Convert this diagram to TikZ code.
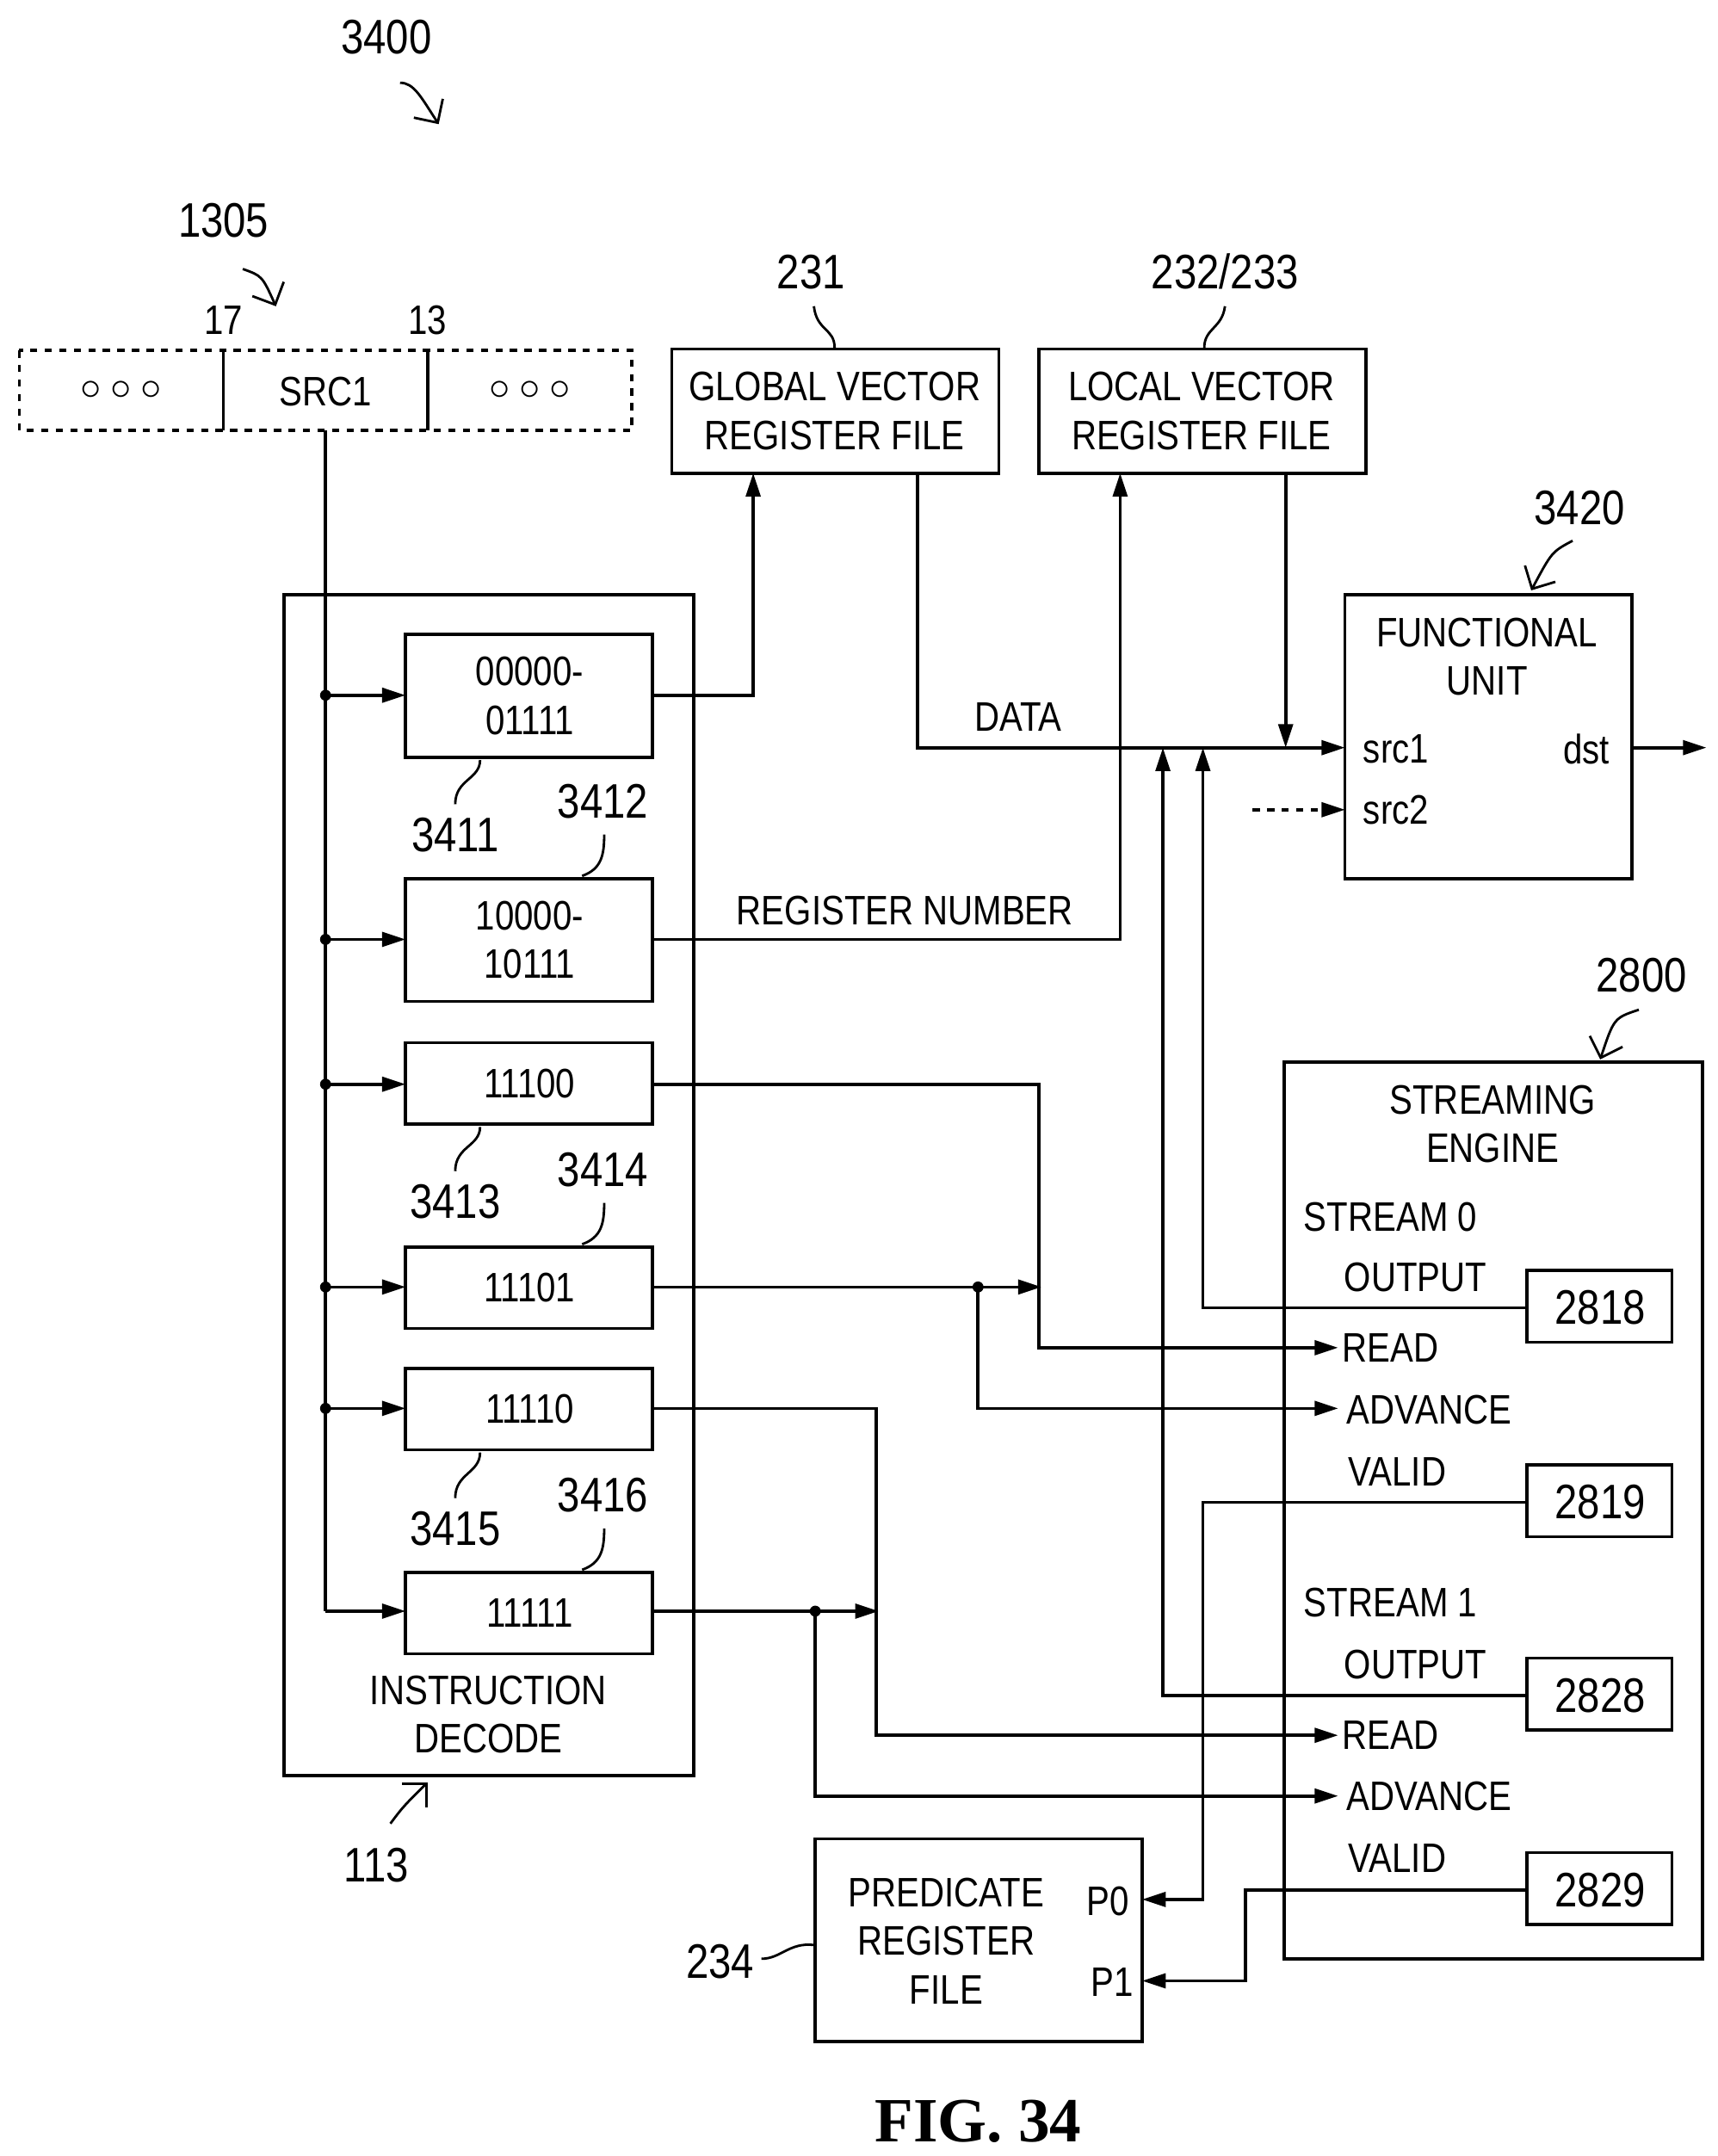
\documentclass[tikz,border=0pt]{standalone}
\usepackage{fontspec}
\setmainfont{Liberation Serif}
\newfontfamily\nar[FakeStretch=0.84]{Liberation Sans}
\usetikzlibrary{arrows.meta}
\begin{document}
\begin{tikzpicture}[x=0.02cm,y=-0.02cm,line width=1.3pt,
 box/.style={draw,minimum width=0,inner sep=0},
 t/.style={font=\nar\fontsize{17}{20}\selectfont,inner sep=0,align=center},
 n/.style={font=\nar\fontsize{20}{24}\selectfont,inner sep=0},
 a/.style={-{Triangle[length=3.4mm,width=2.1mm]}},
 dot/.style={circle,fill,inner sep=0,minimum size=0.16cm}]
\useasboundingbox (0,0) rectangle (1245,1563);
% register 1305
\draw[dashed] (14,254) rectangle (458,312);
\draw (162,254)--(162,312) (310,254)--(310,312);
\node[t] at (88,283) {$\circ\circ\circ$};
\node[t] at (384,283) {$\circ\circ\circ$};
\node[t] (src) at (236,284) {SRC1};
\node[t] at (162,232) {17};
\node[t] at (310,232) {13};
\node[n] (l1305) at (162,160) {1305};
\draw[line width=1pt,-{Straight Barb[length=2.5mm]}] (176,195) .. controls (190,200) .. (200,222);
\node[n] (l3400) at (280,27) {3400};
\draw[line width=1pt,-{Straight Barb[length=2.5mm]}] (290,60) .. controls (300,60) and (305,70) .. (318,90);
% vector RFs
\draw (487,253) rectangle (724,343);
\node[t] (g) at (605,298) {GLOBAL VECTOR\\REGISTER FILE};
\node[n] at (588,197) {231};
\draw[line width=1pt] (590,222) .. controls (592,240) and (605,238) .. (605,252);
\draw (753,253) rectangle (990,343);
\node[t] (lv) at (871,298) {LOCAL VECTOR\\REGISTER FILE};
\node[n] at (888,197) {232/233};
\draw[line width=1pt] (888,222) .. controls (886,238) and (873,238) .. (873,252);
% instruction decode
\draw (206,431) rectangle (503,1287);
\node[t] at (354,1243) {INSTRUCTION\\DECODE};
\node[n] at (273,1352) {113};
\draw[line width=1pt,-{Straight Barb[length=2.5mm]}] (283,1322) .. controls (292,1310) .. (310,1292);
\draw (236,312) -- (236,1168);
\draw[a] (236,1168) -- (294,1168);
\foreach \y/\h/\txt/\nm in {460/549/{00000-\\01111}/b1, 637/726/{10000-\\10111}/b2, 756/815/11100/b3, 904/963/11101/b4, 992/1051/11110/b5, 1140/1199/11111/b6}{
 \draw (294,\y) rectangle (473,\h);
 \node[t] (\nm) at (384,{(\y+\h)/2}) {\txt};
}
\foreach \y in {504,681,786,933,1021}{
 \node[dot] at (236,\y) {};
 \draw[a] (236,\y) -- (294,\y);
}
\foreach \x/\y/\l/\cx/\cy in {330/605/3411/350/549, 437/581/3412/440/637, 330/871/3413/350/815, 437/848/3414/440/904, 330/1108/3415/350/1051, 437/1084/3416/440/1140}{
 \node[n] at (\x,\y) {\l};
}
\draw[line width=1pt] (330,583) .. controls (330,565) and (348,565) .. (348,551);
\draw[line width=1pt] (422,635) .. controls (436,630) and (438,620) .. (438,605);
\draw[line width=1pt] (330,849) .. controls (330,831) and (348,831) .. (348,817);
\draw[line width=1pt] (422,902) .. controls (436,897) and (438,887) .. (438,872);
\draw[line width=1pt] (330,1086) .. controls (330,1068) and (348,1068) .. (348,1053);
\draw[line width=1pt] (422,1138) .. controls (436,1133) and (438,1123) .. (438,1108);
% functional unit
\draw (975,431) rectangle (1183,637);
\node[t] (fu) at (1078,476) {FUNCTIONAL\\UNIT};
\node[t] at (1012,543) {src1};
\node[t] at (1012,587) {src2};
\node[t] at (1150,543) {dst};
\draw[a] (1183,542) -- (1237,542);
\draw[a,dashed] (908,587) -- (975,587);
\node[n] at (1145,368) {3420};
\draw[line width=1pt,-{Straight Barb[length=2.5mm]}] (1140,392) .. controls (1125,400) .. (1110,428);
% connections top
\draw[a] (473,504) -- (546,504) -- (546,343);
\draw[a] (473,681) -- (812,681) -- (812,343);
\node[t] at (656,660) {REGISTER NUMBER};
\draw[a] (665,343) -- (665,542) -- (975,542);
\node[t] at (738,520) {DATA};
\draw[a] (932,343) -- (932,542);
% streaming engine
\draw (931,770) rectangle (1234,1420);
\node[t] (se) at (1082,815) {STREAMING\\ENGINE};
\node[n] at (1190,707) {2800};
\draw[line width=1pt,-{Straight Barb[length=2.5mm]}] (1188,732) .. controls (1170,738) .. (1160,768);
\node[t] at (1008,882) {STREAM 0};
\node[t] at (1026,926) {OUTPUT};
\node[t] at (1008,977) {READ};
\node[t] at (1036,1022) {ADVANCE};
\node[t] at (1013,1067) {VALID};
\node[t] at (1008,1162) {STREAM 1};
\node[t] at (1026,1207) {OUTPUT};
\node[t] at (1008,1258) {READ};
\node[t] at (1036,1302) {ADVANCE};
\node[t] at (1013,1347) {VALID};
\foreach \y/\l in {921/2818,1062/2819,1202/2828,1343/2829}{
 \draw[fill=white] (1107,\y) rectangle (1212,\y+52);
 \node[n] at (1160,\y+27) {\l};
}
\draw[a] (1107,948) -- (872,948) -- (872,542);
\draw[a] (1107,1229) -- (843,1229) -- (843,542);
% control lines
\draw[a] (473,786) -- (753,786) -- (753,977) -- (970,977);
\draw[a] (473,933) -- (755,933);
\node[dot] at (709,933) {};
\draw[a] (709,933) -- (709,1021) -- (970,1021);
\draw[a] (473,1021) -- (635,1021) -- (635,1258) -- (970,1258);
\draw[a] (473,1168) -- (637,1168);
\node[dot] at (591,1168) {};
\draw[a] (591,1168) -- (591,1302) -- (970,1302);
% predicate
\draw (591,1333) rectangle (828,1480);
\node[t] (p) at (686,1407) {PREDICATE\\REGISTER\\FILE};
\node[t] at (803,1378) {P0};
\node[t] at (806,1437) {P1};
\draw[a] (1107,1089) -- (872,1089) -- (872,1377) -- (828,1377);
\draw[a] (1107,1370) -- (903,1370) -- (903,1436) -- (828,1436);
\node[n] at (522,1422) {234};
\draw[line width=1pt] (552,1420) .. controls (566,1420) and (572,1408) .. (590,1410);
\node[font=\bfseries\fontsize{26}{30}\selectfont] at (709,1538) {FIG. 34};
\end{tikzpicture}
\end{document}
